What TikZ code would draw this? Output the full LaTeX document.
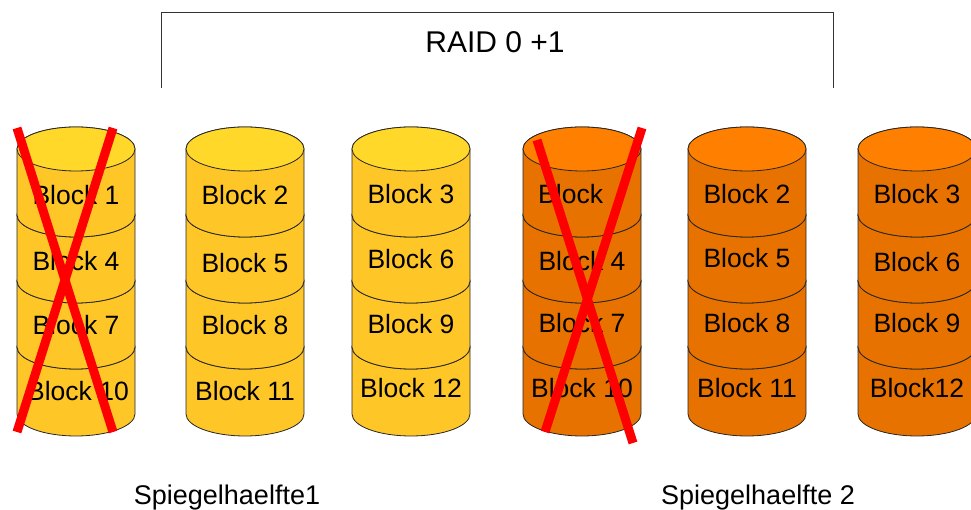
\documentclass[tikz,border=0pt]{standalone}
\usepackage{fontspec}
\setmainfont{Liberation Sans}
\definecolor{ytop}{RGB}{255,216,41}
\definecolor{ybody}{RGB}{255,198,39}
\definecolor{otop}{RGB}{255,128,0}
\definecolor{obody}{RGB}{232,114,0}
\definecolor{xred}{RGB}{255,0,0}
\tikzset{
  disk/.style={draw=black!85, line width=0.8pt},
  blocklabel/.style={font=\fontsize{26.5}{30}\selectfont, inner sep=0pt, anchor=center},
  crossline/.style={draw=xred, line width=9pt},
  bracketline/.style={draw=black!80, line width=1pt},
  caption/.style={font=\fontsize{27}{31}\selectfont, inner sep=0pt},
}
\newcommand\diskseg[5]{%
  \path[disk, fill=#4] (#1-59,#2) -- (#1-59,#3) arc[start angle=180,end angle=360,x radius=59,y radius=22] -- (#1+59,#2) arc[start angle=0,end angle=180,x radius=59,y radius=22] -- cycle;
  \path[disk, fill=#5] (#1,#2) ellipse[x radius=59,y radius=22];
}
\newcommand\diskcol[3]{%
  \diskseg{#1}{163}{96}{#2}{#3}
  \diskseg{#1}{229}{163}{#2}{#3}
  \diskseg{#1}{295}{229}{#2}{#3}
  \diskseg{#1}{361}{295}{#2}{#3}
}
\begin{document}
\begin{tikzpicture}[x=1pt,y=1pt]
\useasboundingbox (0,0) rectangle (971,510);
% top bracket
\coordinate (bl) at (161,422);
\coordinate (tl) at (161,497);
\coordinate (tr) at (833,497);
\coordinate (br) at (833,422);
\draw[bracketline] (bl) -- (tl) -- (tr) -- (br);
\node[font=\fontsize{30}{34}\selectfont, inner sep=0pt] (raid) at (495,468) {RAID 0 +1};
% disks
\diskcol{76}{ybody}{ytop}
\diskcol{245}{ybody}{ytop}
\diskcol{411}{ybody}{ytop}
\diskcol{582}{obody}{otop}
\diskcol{747}{obody}{otop}
\diskcol{917}{obody}{otop}
% labels
\node[blocklabel] (a1) at (76,315) {Block 1};
\node[blocklabel] (a2) at (76,249) {Block 4};
\node[blocklabel] (a3) at (76,185) {Block 7};
\node[blocklabel] (a4) at (78,119) {Block 10};
\node[blocklabel] (b1) at (245,315) {Block 2};
\node[blocklabel] (b2) at (245,247) {Block 5};
\node[blocklabel] (b3) at (245,185) {Block 8};
\node[blocklabel] (b4) at (245,119) {Block 11};
\node[blocklabel] (c1) at (411,316) {Block 3};
\node[blocklabel] (c2) at (411,251) {Block 6};
\node[blocklabel] (c3) at (411,186) {Block 9};
\node[blocklabel] (c4) at (411,122) {Block 12};
\node[blocklabel, anchor=west] (d1) at (538,316) {Block};
\node[blocklabel] (d2) at (582,249) {Block 4};
\node[blocklabel] (d3) at (582,187) {Block 7};
\node[blocklabel] (d4) at (582,122) {Block 10};
\node[blocklabel] (e1) at (747,316) {Block 2};
\node[blocklabel] (e2) at (747,252) {Block 5};
\node[blocklabel] (e3) at (747,187) {Block 8};
\node[blocklabel] (e4) at (747,122) {Block 11};
\node[blocklabel] (f1) at (917,316) {Block 3};
\node[blocklabel] (f2) at (917,248) {Block 6};
\node[blocklabel] (f3) at (917,187) {Block 9};
\node[blocklabel] (f4) at (917,122) {Block12};
% crosses
\coordinate (x1a) at (17,382);
\coordinate (x1b) at (113,78);
\coordinate (x1c) at (113,382);
\coordinate (x1d) at (17,78);
\coordinate (x4a) at (537,370);
\coordinate (x4b) at (633,67);
\coordinate (x4c) at (642,382);
\coordinate (x4d) at (545,78);
\draw[crossline] (x1a) -- (x1b);
\draw[crossline] (x1c) -- (x1d);
\draw[crossline] (x4a) -- (x4b);
\draw[crossline] (x4c) -- (x4d);
% captions
\node[caption] (s1) at (227,12) {Spiegelhaelfte1};
\node[caption] (s2) at (758,12) {Spiegelhaelfte 2};
\end{tikzpicture}
\end{document}
